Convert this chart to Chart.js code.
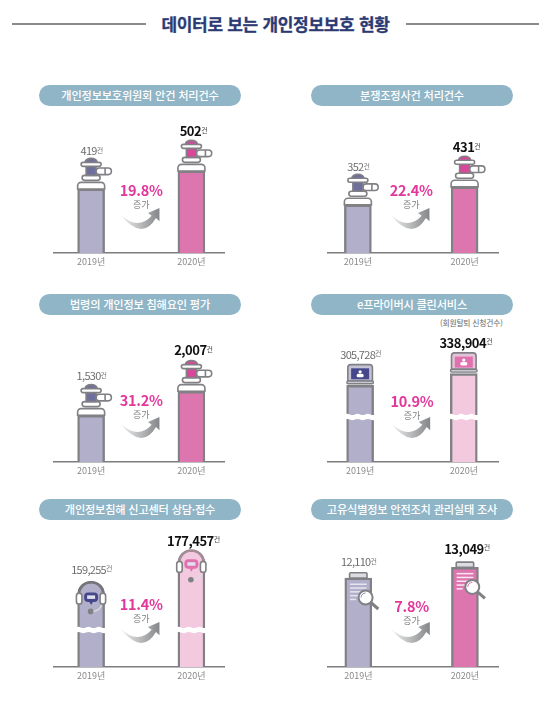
<!DOCTYPE html>
<html lang="ko">
<head>
<meta charset="utf-8">
<title>데이터로 보는 개인정보보호 현황</title>
<script src="https://cdn.jsdelivr.net/npm/chart.js@4"></script>
<style>
  html, body { margin: 0; padding: 0; background: #fff; }
  body { position: relative; width: 560px; height: 702px; overflow: hidden; font-family: "Noto Sans CJK KR", sans-serif; }
  #heading { position: absolute; left: 0; width: 551px; top: 12px; text-align: center; font-size: 17px; line-height: 24px; font-weight: 700; color: #2c3a73; letter-spacing: -0.3px; -webkit-text-stroke: 0.3px #2c3a73; }
  .rule { position: absolute; top: 23px; height: 1.5px; background: #8a8a8a; }
  .pill { position: absolute; width: 202px; height: 21px; border-radius: 10.5px; background: #8fb5c7; color: #fff; font-size: 11.2px; font-weight: 500; line-height: 21px; text-align: center; letter-spacing: -0.2px; }
  #note { position: absolute; left: 440px; top: 318px; font-size: 7.8px; line-height: 10px; color: #666; letter-spacing: -0.2px; white-space: nowrap; }
  canvas { position: absolute; }
</style>
</head>
<body>
<div id="heading">데이터로 보는 개인정보보호 현황</div>
<div class="rule" style="left:12px;width:134px"></div>
<div class="rule" style="left:406px;width:133px"></div>
<div id="note">(회원탈퇴 신청건수)</div>
<script>
const years = [2019, 2020];
const titles = [
  '개인정보보호위원회 안건 처리건수',
  '분쟁조정사건 처리건수',
  '법령의 개인정보 침해요인 평가',
  'e프라이버시 클린서비스',
  '개인정보침해 신고센터 상담·접수',
  '고유식별정보 안전조치 관리실태 조사'
];
const values2019 = [419, 352, 1530, 305728, 159255, 12110];
const values2020 = [502, 431, 2007, 338904, 177457, 13049];
const changes = ['19.8', '22.4', '31.2', '10.9', '11.4', '7.8'];
const icons = ['valve', 'valve', 'valve', 'laptop', 'headset', 'doc'];

// the bars are pictograms with a cut axis, so each panel has its own y range
const panels = [
  { left: 54,  pillLeft: 39,  axis: 253, pillTop: 85,  xMin: 2018.63, xMax: 2020.325, yMin: 124,   yMax: 862,    gap: [38, 40], pct: 63 },
  { left: 328, pillLeft: 311, axis: 253, pillTop: 85,  xMin: 2018.72, xMax: 2020.313, yMin: 141,   yMax: 843,    gap: [38, 39.6], pct: 63 },
  { left: 54,  pillLeft: 39,  axis: 462, pillTop: 294, xMin: 2018.63, xMax: 2020.325, yMin: 602,   yMax: 3782,   gap: [39, 41], pct: 62 },
  { left: 328, pillLeft: 311, axis: 462, pillTop: 294, xMin: 2018.69, xMax: 2020.33, yMin: 88428, yMax: 541800, gap: [30.7, 31], pct: 61, cut: 45, pale: true },
  { left: 54,  pillLeft: 39,  axis: 667, pillTop: 499, xMin: 2018.63, xMax: 2020.325, yMin: 110055, yMax: 202005, gap: [11.7, 9], pct: 63, cut: 37, pale: true, round: 13 },
  { left: 328, pillLeft: 311, axis: 667, pillTop: 499, xMin: 2018.716, xMax: 2020.31, yMin: 4227,  yMax: 18399,  gap: [16, 18.7], pct: 61 }
];

const GREY = '#808085';
const FONT = '"Noto Sans CJK KR", sans-serif';

function box(ctx, x, y, w, h, r, fill, lw) {
  ctx.beginPath();
  ctx.roundRect(x, y, w, h, r);
  ctx.fillStyle = fill;
  ctx.fill();
  ctx.lineWidth = lw || 1.6;
  ctx.strokeStyle = GREY;
  ctx.stroke();
}

function drawValve(ctx, x, y, tone) {
  box(ctx, x - 13.5, y - 6.7, 27, 6.7, [3.5, 3.5, 0, 0], '#fff');
  box(ctx, x - 9, y - 13.7, 18, 5, 2.5, '#fff');
  box(ctx, x + 5, y - 21, 15.3, 6.6, 3.3, '#fff');
  ctx.beginPath();
  ctx.moveTo(x + 14, y - 21);
  ctx.lineTo(x + 14, y - 14.4);
  ctx.stroke();
  box(ctx, x - 5, y - 22.7, 10, 9, 0, tone);
  ctx.beginPath();
  ctx.ellipse(x, y - 26.7, 6, 4, 0, Math.PI, 0);
  ctx.fillStyle = tone;
  ctx.fill();
  ctx.strokeStyle = GREY;
  ctx.stroke();
  box(ctx, x - 10, y - 26.7, 20, 4, 2, '#fff');
}

function drawLaptop(ctx, x, y, tone, frame) {
  box(ctx, x - 12.3, y - 20.7, 24.6, 16.4, [3, 3, 0, 0], frame, 1.6);
  ctx.fillStyle = tone;
  ctx.fillRect(x - 9, y - 17, 18, 11);
  box(ctx, x - 13.3, y - 4.3, 26.6, 2.8, 1.4, '#c9c9d0', 1.4);
  // little person on the screen
  ctx.fillStyle = '#fff';
  ctx.beginPath();
  ctx.arc(x, y - 13.5, 1.6, 0, Math.PI * 2);
  ctx.fill();
  ctx.beginPath();
  ctx.roundRect(x - 3.5, y - 11.5, 7, 3.5, 1.5);
  ctx.fill();
}

function drawHeadset(ctx, x, y, tone, bubble, band) {
  // darker headband over the rounded top of the bar
  ctx.lineWidth = 2.6;
  ctx.strokeStyle = band;
  ctx.beginPath();
  ctx.arc(x, y + 13, 12.2, Math.PI, 0);
  ctx.stroke();
  ctx.lineWidth = 1.5;
  ctx.strokeStyle = '#dcdce2';
  ctx.beginPath();
  ctx.moveTo(x + 11, y + 22);
  ctx.quadraticCurveTo(x + 9, y + 30, x + 1, y + 30);
  ctx.stroke();
  ctx.beginPath();
  ctx.arc(x - 0.5, y + 30, 2.8, 0, Math.PI * 2);
  ctx.fillStyle = GREY;
  ctx.fill();
  box(ctx, x - 14.7, y + 11.7, 5.5, 11, 2.7, '#fff');
  box(ctx, x + 9, y + 11.7, 5.5, 11, 2.7, '#fff');
  ctx.beginPath();
  ctx.roundRect(x - 7, y + bubble, 14, 9.5, 4);
  ctx.fillStyle = tone;
  ctx.fill();
  ctx.beginPath();
  ctx.moveTo(x - 2, y + bubble + 9);
  ctx.lineTo(x, y + bubble + 12.5);
  ctx.lineTo(x + 2, y + bubble + 9);
  ctx.fill();
  ctx.fillStyle = '#e0e0ee';
  ctx.fillRect(x - 4, y + bubble + 3, 8, 3.5);
}

function drawDoc(ctx, x, y, i) {
  box(ctx, x - 8.7, y - 5.3, 17.4, 5.3, [1, 1, 0, 0], '#dcdce2');
  ctx.fillStyle = i ? '#fbe6f2' : '#e6e6f0';
  [16.7, 16.7, 13, 9, 6].forEach((w, k) => {
    ctx.fillRect(x - 8.3, y + 5.5 + k * 3.8, w, 1.5);
  });
  ctx.beginPath();
  ctx.moveTo(x + 12, y + 24);
  ctx.lineTo(x + 20, y + 31);
  ctx.lineWidth = 3;
  ctx.strokeStyle = GREY;
  ctx.stroke();
  ctx.beginPath();
  ctx.arc(x + 7.3, y + 19.5, 7, 0, Math.PI * 2);
  ctx.fillStyle = '#fff';
  ctx.fill();
  ctx.lineWidth = 2;
  ctx.stroke();
  ctx.beginPath();
  ctx.arc(x + 7.3, y + 19.5, 4.5, Math.PI, Math.PI * 1.5);
  ctx.lineWidth = 0.8;
  ctx.strokeStyle = i ? '#d9479b' : '#6f6f9e';
  ctx.stroke();
}

function drawCut(ctx, x, y) {
  const half = 15.5, top = y - 2.6, bottom = y + 2.6, count = 6, step = (half * 2) / count;
  ctx.beginPath();
  ctx.moveTo(x - half, top);
  for (let k = 0; k < count; k++) {
    ctx.quadraticCurveTo(x - half + step * (k + 0.5), top + (k % 2 ? 1.4 : -1.4), x - half + step * (k + 1), top);
  }
  ctx.lineTo(x + half, bottom);
  for (let k = count - 1; k >= 0; k--) {
    ctx.quadraticCurveTo(x - half + step * (k + 0.5), bottom + (k % 2 ? 1.4 : -1.4), x - half + step * k, bottom);
  }
  ctx.closePath();
  ctx.fillStyle = '#fff';
  ctx.fill();
}

function drawArrow(ctx, x, y) {
  const g = ctx.createLinearGradient(x - 20, 0, x + 18, 0);
  g.addColorStop(0, '#eeeeee');
  g.addColorStop(1, '#85878a');
  ctx.beginPath();
  ctx.moveTo(x - 20.7, y + 6.7);
  ctx.quadraticCurveTo(x - 3.2, y + 22.8, x + 10.4, y + 7.7);
  ctx.lineTo(x + 6.7, y + 5);
  ctx.lineTo(x + 18.2, y);
  ctx.lineTo(x + 18.2, y + 13.3);
  ctx.lineTo(x + 14.7, y + 10);
  ctx.quadraticCurveTo(x + 0.9, y + 33.6, x - 20.7, y + 6.7);
  ctx.closePath();
  ctx.fillStyle = g;
  ctx.fill();
}

function drawValueLabel(ctx, text, x, y, strong) {
  ctx.textBaseline = 'middle';
  ctx.textAlign = 'left';
  ctx.font = (strong ? '700 13px ' : '400 11px ') + FONT;
  ctx.letterSpacing = strong ? '-0.5px' : '-0.7px';
  const w = ctx.measureText(text).width;
  const left = x - (w + 7) / 2;
  ctx.fillStyle = strong ? '#111' : '#6d6d70';
  ctx.fillText(text, left, y);
  ctx.font = '400 7px ' + FONT;
  ctx.letterSpacing = '0px';
  ctx.fillStyle = strong ? '#444' : '#777';
  ctx.fillText('건', left + w, y - 1);
}

const pictoPlugin = {
  id: 'picto',
  afterDatasetsDraw(chart, args, opts) {
    const ctx = chart.ctx;
    const bars = chart.getDatasetMeta(0).data;
    const mid = chart.scales.x.getPixelForValue(2019.5);
    const bottom = chart.chartArea.bottom;
    ctx.save();
    bars.forEach((bar, i) => {
      const tone = i ? '#d9479b' : '#6f6f9e';
      if (opts.icon === 'valve') drawValve(ctx, bar.x, bar.y, tone);
      if (opts.icon === 'laptop') drawLaptop(ctx, bar.x, bar.y, i ? '#e070ae' : '#45478a', i ? '#e3c3d8' : '#c4c3d6');
      if (opts.icon === 'headset') drawHeadset(ctx, bar.x, bar.y, i ? '#e070ae' : '#45478a', i ? 9.5 : 11, i ? '#a58c9a' : '#75757b');
      if (opts.icon === 'doc') drawDoc(ctx, bar.x, bar.y, i);
      if (opts.cut) drawCut(ctx, bar.x, bottom - opts.cut);
      const text = opts.values[i].toLocaleString('en-US');
      drawValueLabel(ctx, text, bar.x + (i ? 2.5 : 1), bar.y - opts.gap[i], i === 1);
    });
    ctx.textAlign = 'center';
    ctx.textBaseline = 'middle';
    ctx.letterSpacing = '-0.3px';
    ctx.font = '700 14.5px ' + FONT;
    ctx.fillStyle = '#e2379b';
    ctx.fillText(opts.change + '%', mid, bottom - opts.pct);
    ctx.letterSpacing = '0px';
    ctx.font = '400 9px ' + FONT;
    ctx.fillStyle = '#7d7d80';
    ctx.fillText('증가', mid, bottom - opts.pct + 14.5);
    drawArrow(ctx, mid, bottom - 45);
    ctx.restore();
  }
};

const CHART_H = 160, AXIS_H = 24, SIDE = 24, AREA_W = 170;

panels.forEach((p, i) => {
  const pill = document.createElement('div');
  pill.className = 'pill';
  pill.style.left = p.pillLeft + 'px';
  pill.style.top = p.pillTop + 'px';
  pill.textContent = titles[i];
  document.body.appendChild(pill);

  const canvas = document.createElement('canvas');
  canvas.style.left = (p.left - SIDE) + 'px';
  canvas.style.top = (p.axis - CHART_H) + 'px';
  canvas.width = AREA_W + SIDE * 2;
  canvas.height = CHART_H + AXIS_H;
  document.body.appendChild(canvas);

  const series = [values2019[i], values2020[i]];
  const pale2020 = p.pale ? '#f2c9df' : '#dd76ae';

  new Chart(canvas.getContext('2d'), {
    type: 'bar',
    data: {
      datasets: [{
        data: years.map((year, k) => ({ x: year, y: series[k] })),
        backgroundColor: ['#b1afc9', pale2020],
        borderColor: GREY,
        borderWidth: 2.4,
        borderSkipped: 'bottom',
        borderRadius: p.round ? { topLeft: p.round, topRight: p.round } : 0,
        barThickness: 27
      }]
    },
    options: {
      responsive: false,
      animation: false,
      layout: { padding: { left: SIDE, right: SIDE, top: 0, bottom: 0 } },
      plugins: {
        legend: { display: false },
        tooltip: { enabled: false },
        picto: { icon: icons[i], values: series, change: changes[i], gap: p.gap, pct: p.pct, cut: p.cut }
      },
      scales: {
        x: {
          type: 'linear',
          offset: false,
          min: p.xMin,
          max: p.xMax,
          afterBuildTicks: scale => { scale.ticks = years.map(value => ({ value })); },
          afterFit: scale => { scale.height = AXIS_H; },
          grid: { display: false, drawTicks: false, offset: false },
          border: { display: true, color: '#7d7d80', width: 1.5 },
          ticks: {
            color: '#8a8a8c',
            padding: 3,
            maxRotation: 0,
            font: { family: FONT, size: 9 },
            callback: value => value + '년'
          }
        },
        y: { display: false, min: p.yMin, max: p.yMax }
      }
    },
    plugins: [pictoPlugin]
  });
});
</script>
</body>
</html>
